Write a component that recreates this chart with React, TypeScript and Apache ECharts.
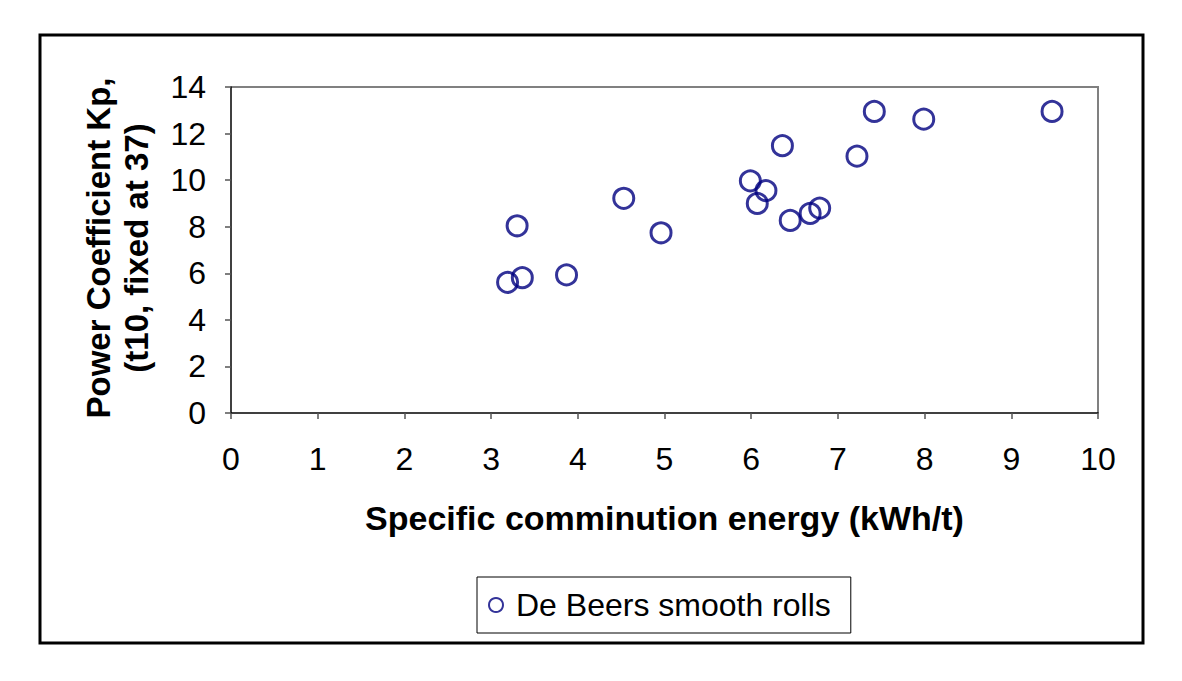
import React, { useEffect, useRef } from "react";
import * as echarts from "echarts";

// Specific comminution energy (kWh/t)
const energy = [3.19, 3.30, 3.36, 3.87, 4.53, 4.96, 5.99, 6.07, 6.17, 6.36, 6.45, 6.68, 6.79, 7.22, 7.42, 7.99, 9.47];
// Power coefficient Kp (t10 fixed at 37)
const kp = [5.61, 8.04, 5.81, 5.93, 9.22, 7.74, 9.97, 9.00, 9.55, 11.48, 8.27, 8.57, 8.80, 11.03, 12.95, 12.62, 12.95];

const seriesName = "De Beers smooth rolls";
const xTitle = "Specific comminution energy (kWh/t)";
const yTitle = "Power Coefficient Kp,\n(t10, fixed at 37)";

const FONT = "Arial, 'Liberation Sans', sans-serif";

export default function App() {
  const ref = useRef<HTMLDivElement>(null);

  useEffect(() => {
    if (!ref.current) return;
    const chart = echarts.init(ref.current, undefined, { renderer: "svg" });
    const points = energy.map((x, i) => [x, kp[i]]);

    chart.setOption({
      animation: false,
      backgroundColor: "#ffffff",
      textStyle: { fontFamily: FONT },
      grid: { left: 231, top: 87, right: 84, bottom: 268, show: false },
      xAxis: {
        type: "value",
        min: 0,
        max: 10,
        interval: 1,
        name: xTitle,
        nameLocation: "middle",
        nameGap: 88,
        nameTextStyle: { fontSize: 34, fontWeight: "bold", color: "#000", fontFamily: FONT },
        axisLine: { show: true, onZero: false, lineStyle: { color: "#000", width: 1.5 } },
        axisTick: { show: true, length: 6, lineStyle: { color: "#555", width: 1.5 } },
        axisLabel: { fontSize: 32, color: "#000", margin: 30, fontFamily: FONT },
        splitLine: { show: false },
      },
      yAxis: {
        type: "value",
        min: 0,
        max: 14,
        interval: 2,
        axisLine: { show: true, onZero: false, lineStyle: { color: "#000", width: 1.5 } },
        axisTick: { show: true, length: 6, lineStyle: { color: "#555", width: 1.5 } },
        axisLabel: { fontSize: 32, color: "#000", margin: 25, fontFamily: FONT },
        splitLine: { show: false },
      },
      legend: {
        left: 477,
        top: 577,
        padding: [12, 20, 12, 11],
        borderColor: "#000",
        borderWidth: 1,
        itemWidth: 14,
        itemHeight: 14,
        itemGap: 10,
        textStyle: { fontSize: 32, color: "#000", fontFamily: FONT, padding: [0, 0, 0, 8] },
        itemStyle: { color: "transparent", borderColor: "#000080", borderWidth: 2 },
        data: [{ name: seriesName, icon: "circle" }],
      },
      graphic: [
        {
          type: "rect",
          shape: { x: 40, y: 35, width: 1103, height: 608 },
          style: { fill: "none", stroke: "#000", lineWidth: 3 },
          silent: true,
        },
        // top and right edges of the plot area
        {
          type: "polyline",
          shape: { points: [[231, 87], [1098, 87], [1098, 413]] },
          style: { stroke: "#808080", lineWidth: 2, fill: "none" },
          silent: true,
        },
        {
          type: "text",
          x: 117,
          y: 248,
          rotation: Math.PI / 2,
          style: {
            text: yTitle,
            fontSize: 33,
            fontWeight: "bold",
            fontFamily: FONT,
            fill: "#000",
            align: "center",
            verticalAlign: "middle",
            lineHeight: 38,
          },
          silent: true,
        },
      ],
      series: [
        {
          name: seriesName,
          type: "scatter",
          data: points,
          symbol: "circle",
          symbolSize: 20,
          itemStyle: { color: "transparent", borderColor: "#000080", borderWidth: 3 },
        },
      ],
    });

    return () => chart.dispose();
  }, []);

  return (
    <div
      ref={ref}
      style={{ position: "absolute", left: 0, top: 0, width: 1182, height: 681, background: "#fff" }}
    />
  );
}
